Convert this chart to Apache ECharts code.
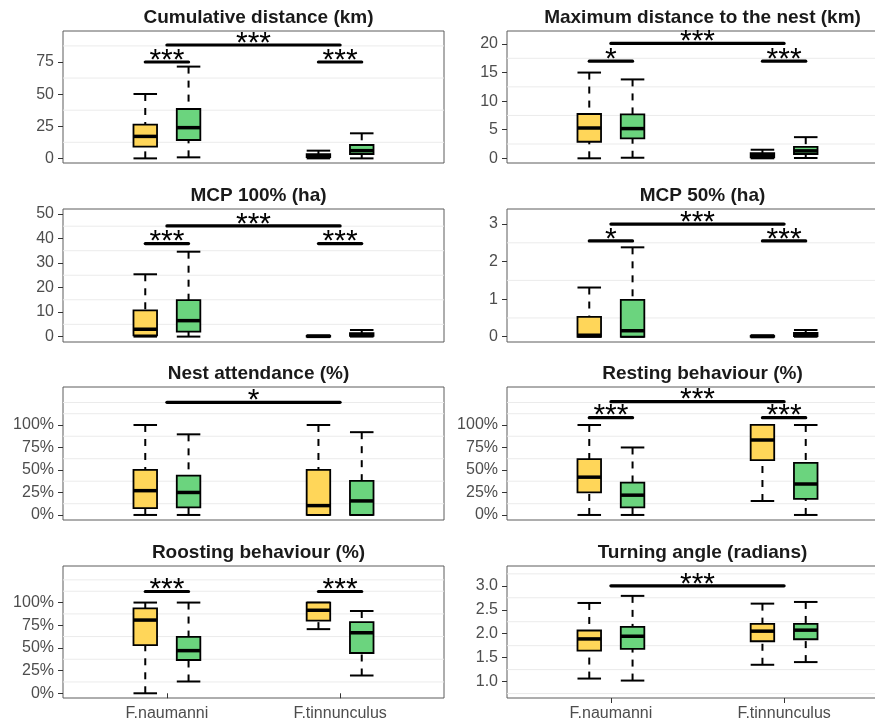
<!DOCTYPE html>
<html>
<head>
<meta charset="utf-8">
<script src="https://cdn.jsdelivr.net/npm/echarts@6/dist/echarts.min.js"></script>
<style>
html,body{margin:0;padding:0;background:#fff;}
#chart{width:875px;height:725px;}
</style>
</head>
<body>
<div id="chart"></div>
<script>
// ---------- data ----------
const speciesLabels = ['F.naumanni', 'F.tinnunculus'];
const panelTitles = [
  'Cumulative distance (km)', 'Maximum distance to the nest (km)',
  'MCP 100% (ha)', 'MCP 50% (ha)',
  'Nest attendance (%)', 'Resting behaviour (%)',
  'Roosting behaviour (%)', 'Turning angle (radians)'
];
const yMins = [-3.6, -0.82, -2.2, -0.14, -0.056, -0.056, -0.052, 0.657];
const yMaxs = [99.1, 22.27, 52.0, 3.40, 1.422, 1.422, 1.403, 3.414];
const yTicks = [
  [0, 25, 50, 75], [0, 5, 10, 15, 20],
  [0, 10, 20, 30, 40, 50], [0, 1, 2, 3],
  [0, 0.25, 0.5, 0.75, 1], [0, 0.25, 0.5, 0.75, 1],
  [0, 0.25, 0.5, 0.75, 1], [1.0, 1.5, 2.0, 2.5, 3.0]
];
const tickFormats = ['int', 'int', 'int', 'int', 'pct', 'pct', 'pct', 'dec1'];

// box stats: [min, q1, median, q3, max]; order: naumanni A, naumanni B, tinnunculus A, tinnunculus B
const cumulativeDistance = [[0, 9.1, 17.1, 26.2, 50.1], [0.8, 14.3, 23.9, 38.4, 71.4], [0, 0.9, 1.8, 3.2, 6.0], [0, 3.4, 6.0, 10.4, 19.5]];
const maxDistanceNest = [[0, 2.9, 5.3, 7.75, 15.0], [0.1, 3.5, 5.2, 7.7, 13.8], [0, 0.15, 0.5, 0.9, 1.5], [0.05, 0.75, 1.3, 2.0, 3.7]];
const mcp100 = [[0, 0.5, 3.0, 10.7, 25.4], [0, 2.0, 6.5, 14.9, 34.6], [0, 0, 0.1, 0.3, 0.5], [0, 0.3, 0.8, 1.4, 2.7]];
const mcp50 = [[0, 0, 0.04, 0.53, 1.31], [0, 0, 0.16, 0.98, 2.38], [0, 0, 0.005, 0.02, 0.04], [0, 0.02, 0.06, 0.1, 0.18]];
const nestAttendance = [[0, 0.075, 0.27, 0.5, 1.0], [0, 0.085, 0.25, 0.437, 0.896], [0, 0, 0.104, 0.5, 1.0], [0, 0, 0.156, 0.378, 0.92]];
const restingBehaviour = [[0, 0.25, 0.42, 0.62, 1.0], [0, 0.085, 0.22, 0.36, 0.75], [0.155, 0.61, 0.833, 1.0, 1.0], [0, 0.178, 0.344, 0.578, 1.0]];
const roostingBehaviour = [[0, 0.53, 0.807, 0.937, 1.0], [0.13, 0.367, 0.47, 0.622, 1.0], [0.707, 0.80, 0.915, 1.0, 1.0], [0.196, 0.444, 0.667, 0.785, 0.907]];
const turningAngle = [[1.063, 1.646, 1.891, 2.067, 2.642], [1.021, 1.681, 1.947, 2.144, 2.79], [1.351, 1.842, 2.053, 2.207, 2.628], [1.407, 1.884, 2.074, 2.207, 2.663]];

// significance: [from group, to group, y, label]
const cumulativeDistanceSig = [['N1', 'N2', 75, '***'], ['N', 'T', 88.2, '***'], ['T1', 'T2', 75, '***']];
const maxDistanceNestSig = [['N1', 'N2', 17, '*'], ['N', 'T', 20.1, '***'], ['T1', 'T2', 17, '***']];
const mcp100Sig = [['N1', 'N2', 37.9, '***'], ['N', 'T', 45.1, '***'], ['T1', 'T2', 37.9, '***']];
const mcp50Sig = [['N1', 'N2', 2.55, '*'], ['N', 'T', 3.0, '***'], ['T1', 'T2', 2.55, '***']];
const nestAttendanceSig = [['N', 'T', 1.252, '*']];
const restingBehaviourSig = [['N1', 'N2', 1.081, '***'], ['N', 'T', 1.259, '***'], ['T1', 'T2', 1.081, '***']];
const roostingBehaviourSig = [['N1', 'N2', 1.122, '***'], ['T1', 'T2', 1.122, '***']];
const turningAngleSig = [['N', 'T', 3.0, '***']];

// ---------- layout / style ----------
const panelBoxes = [cumulativeDistance, maxDistanceNest, mcp100, mcp50, nestAttendance, restingBehaviour, roostingBehaviour, turningAngle];
const panelSigs = [cumulativeDistanceSig, maxDistanceNestSig, mcp100Sig, mcp50Sig, nestAttendanceSig, restingBehaviourSig, roostingBehaviourSig, turningAngleSig];
const groupColors = ['#FFD659', '#6BD47E'];
const DODGE = 0.125, BOX_W = 0.136;
const groupX = { N: 1, T: 2, N1: 1 - DODGE, N2: 1 + DODGE, T1: 2 - DODGE, T2: 2 + DODGE };
const colLefts = [63, 507];
const rowTops = [31, 209, 387, 566];
const rowHeights = [132, 133, 133, 132];
const PANEL_W = 381;
const FONT = 'Liberation Sans, Arial, sans-serif';

function fmt(kind, v) {
  if (kind === 'pct') return Math.round(v * 100) + '%';
  if (kind === 'dec1') return Number(v).toFixed(1);
  return String(Math.round(v));
}
function minorLines(ticks, mn, mx) {
  const d = ticks[1] - ticks[0];
  let b = ticks.slice();
  if (mn < b[0]) b.unshift(b[0] - d);
  if (mx > b[b.length - 1]) b.push(b[b.length - 1] + d);
  const out = [];
  for (let i = 0; i < b.length - 1; i++) { out.push(b[i]); out.push(b[i] + d / 2); }
  out.push(b[b.length - 1]);
  return out.filter(v => v > mn && v < mx && !ticks.some(t => Math.abs(t - v) < 1e-9));
}

const grids = [], xAxes = [], yAxes = [], series = [], titles = [];
for (let p = 0; p < 8; p++) {
  const col = p % 2, row = Math.floor(p / 2);
  const left = colLefts[col], top = rowTops[row], h = rowHeights[row];
  const bottomRow = row === 3;
  grids.push({ left: left, top: top, width: PANEL_W, height: h, show: true, borderColor: '#5c5c5c', borderWidth: 1,
    backgroundColor: 'transparent', containLabel: false, outerBoundsMode: 'none' });
  titles.push({ text: panelTitles[p], left: left + PANEL_W / 2, top: top - 28, textAlign: 'center',
    textStyle: { fontFamily: FONT, fontSize: 19, fontWeight: 'bold', color: '#1a1a1a' } });
  xAxes.push({
    type: 'value', gridIndex: p, min: 0.4, max: 2.6,
    axisLine: { show: false }, splitLine: { show: false },
    axisTick: { show: bottomRow, customValues: [1, 2], length: 5, lineStyle: { color: '#333', width: 1 } },
    axisLabel: { show: bottomRow, customValues: [1, 2], margin: 8, color: '#4d4d4d', fontSize: 16, fontFamily: FONT,
      formatter: v => speciesLabels[Math.round(v) - 1] || '' }
  });
  const kind = tickFormats[p];
  yAxes.push({
    type: 'value', gridIndex: p, min: yMins[p], max: yMaxs[p],
    axisLine: { show: false }, splitLine: { show: false },
    axisTick: { show: true, customValues: yTicks[p], length: 5, lineStyle: { color: '#333', width: 1 } },
    axisLabel: { customValues: yTicks[p], margin: 9, color: '#4d4d4d', fontSize: 16, fontFamily: FONT,
      formatter: v => fmt(kind, v) }
  });
  // minor grid lines
  series.push({
    type: 'custom', xAxisIndex: p, yAxisIndex: p, silent: true, z: 1,
    data: minorLines(yTicks[p], yMins[p], yMaxs[p]).map(v => [1.5, v]),
    encode: { x: 0, y: 1 },
    renderItem: function (params, api) {
      const pt = api.coord([1.5, api.value(1)]);
      const cs = params.coordSys;
      return { type: 'line', shape: { x1: cs.x, y1: pt[1], x2: cs.x + cs.width, y2: pt[1] },
        style: { stroke: '#ebebeb', lineWidth: 1 } };
    }
  });
  // boxes
  const boxes = panelBoxes[p];
  const keys = ['N1', 'N2', 'T1', 'T2'];
  series.push({
    type: 'custom', xAxisIndex: p, yAxisIndex: p, silent: true, z: 3,
    data: boxes.map((b, i) => [groupX[keys[i]], b[0], b[1], b[2], b[3], b[4], i % 2]),
    encode: { x: 0, y: [1, 2, 3, 4, 5] },
    renderItem: function (params, api) {
      const x = api.value(0);
      const c = v => api.coord([x, v]);
      const half = api.size([BOX_W, 0])[0] / 2;
      const pMin = c(api.value(1)), pQ1 = c(api.value(2)), pMed = c(api.value(3)), pQ3 = c(api.value(4)), pMax = c(api.value(5));
      const cx = pMin[0];
      const color = groupColors[api.value(6)];
      const dash = { stroke: '#000', lineWidth: 2, lineDash: [7, 7] };
      const solid = { stroke: '#000', lineWidth: 2 };
      return { type: 'group', children: [
        { type: 'line', shape: { x1: cx, y1: pMax[1], x2: cx, y2: pQ3[1] }, style: dash },
        { type: 'line', shape: { x1: cx, y1: pMin[1], x2: cx, y2: pQ1[1] }, style: dash },
        { type: 'line', shape: { x1: cx - half, y1: pMax[1], x2: cx + half, y2: pMax[1] }, style: solid },
        { type: 'line', shape: { x1: cx - half, y1: pMin[1], x2: cx + half, y2: pMin[1] }, style: solid },
        { type: 'rect', shape: { x: cx - half, y: pQ3[1], width: 2 * half, height: pQ1[1] - pQ3[1] },
          style: { fill: color, stroke: '#000', lineWidth: 1.8 } },
        { type: 'line', shape: { x1: cx - half, y1: pMed[1], x2: cx + half, y2: pMed[1] }, style: { stroke: '#000', lineWidth: 3.5 } }
      ] };
    }
  });
  // significance bars
  const sigs = panelSigs[p];
  series.push({
    type: 'custom', xAxisIndex: p, yAxisIndex: p, silent: true, z: 4,
    data: sigs.map(s => [groupX[s[0]], groupX[s[1]], s[2]]),
    encode: { x: [0, 1], y: 2 },
    renderItem: function (params, api) {
      const a = api.coord([api.value(0), api.value(2)]);
      const b = api.coord([api.value(1), api.value(2)]);
      const label = sigs[params.dataIndex][3];
      return { type: 'group', children: [
        { type: 'line', shape: { x1: a[0], y1: a[1], x2: b[0], y2: b[1] }, style: { stroke: '#000', lineWidth: 3.2, lineCap: 'round' } },
        { type: 'text', x: (a[0] + b[0]) / 2, y: a[1] - 1.5, style: { text: label, fontFamily: FONT, fontSize: 30,
          fill: '#000', align: 'center', verticalAlign: 'middle' } }
      ] };
    }
  });
}

const chart = echarts.init(document.getElementById('chart'), null, { renderer: 'canvas' });
chart.setOption({
  backgroundColor: '#fff',
  animation: false,
  title: titles,
  grid: grids,
  xAxis: xAxes,
  yAxis: yAxes,
  series: series
});
</script>
</body>
</html>
